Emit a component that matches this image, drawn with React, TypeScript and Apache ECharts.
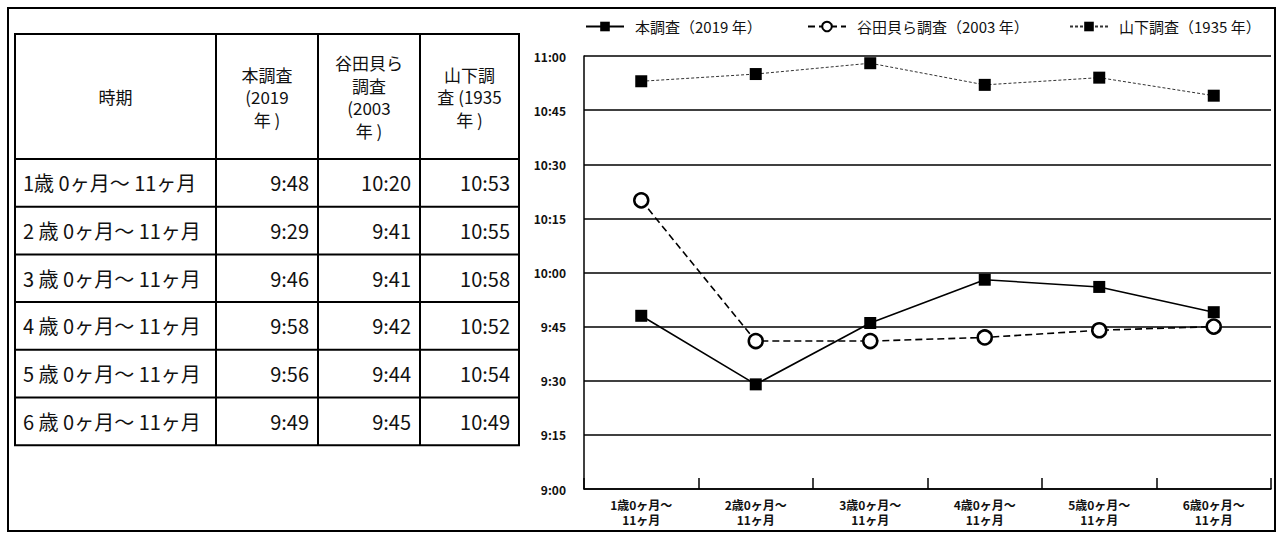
import React, { useEffect, useRef } from "react";
import * as echarts from "echarts";

const tableRowLabels = [
  "1歳 0ヶ月～ 11ヶ月",
  "2 歳 0ヶ月～ 11ヶ月",
  "3 歳 0ヶ月～ 11ヶ月",
  "4 歳 0ヶ月～ 11ヶ月",
  "5 歳 0ヶ月～ 11ヶ月",
  "6 歳 0ヶ月～ 11ヶ月",
];
const axisCategories = [
  "1歳0ヶ月～\n11ヶ月",
  "2歳0ヶ月～\n11ヶ月",
  "3歳0ヶ月～\n11ヶ月",
  "4歳0ヶ月～\n11ヶ月",
  "5歳0ヶ月～\n11ヶ月",
  "6歳0ヶ月～\n11ヶ月",
];
const tableHeaders = [["時期"], ["本調査", "(2019", "年 )"], ["谷田貝ら", "調査", "(2003", "年 )"], ["山下調", "査 (1935", "年 )"]];
const seriesNames = ["本調査（2019 年）", "谷田貝ら調査（2003 年）", "山下調査（1935 年）"];
const survey2019 = ["9:48", "9:29", "9:46", "9:58", "9:56", "9:49"];
const survey2003 = ["10:20", "9:41", "9:41", "9:42", "9:44", "9:45"];
const survey1935 = ["10:53", "10:55", "10:58", "10:52", "10:54", "10:49"];
const yMinTime = "9:00";
const yMaxTime = "11:00";
const yStepMinutes = 15;

const toMin = (s: string) => {
  const [h, m] = s.split(":").map(Number);
  return h * 60 + m;
};
const fmt = (v: number) => {
  const h = Math.floor(v / 60);
  const m = Math.round(v % 60);
  return `${h}:${m < 10 ? "0" + m : m}`;
};

const FONT = '"Noto Sans CJK JP", "Noto Sans", sans-serif';

export default function App() {
  const ref = useRef<HTMLDivElement>(null);
  useEffect(() => {
    if (!ref.current) return;
    const chart = echarts.init(ref.current, null, { renderer: "svg" });

    // table layout
    const colX = [15, 216, 318, 420, 519];
    const top = 34;
    const headBottom = 159;
    const rowH = 47.7;
    const bottom = headBottom + rowH * tableRowLabels.length;
    const headLineH = 22.5;
    const graphic: any[] = [];
    graphic.push({
      type: "rect",
      shape: { x: 8, y: 8, width: 1267, height: 523 },
      style: { fill: "none", stroke: "#000", lineWidth: 2 },
      silent: true,
    });
    graphic.push({
      type: "rect",
      shape: { x: colX[0], y: top, width: colX[4] - colX[0], height: bottom - top },
      style: { fill: "#fff", stroke: "#000", lineWidth: 2 },
      silent: true,
    });
    for (let i = 1; i < colX.length - 1; i++) {
      graphic.push({
        type: "line",
        shape: { x1: colX[i], y1: top, x2: colX[i], y2: bottom },
        style: { stroke: "#000", lineWidth: 2 },
        silent: true,
      });
    }
    for (let r = 0; r < tableRowLabels.length; r++) {
      const y = headBottom + rowH * r;
      graphic.push({
        type: "line",
        shape: { x1: colX[0], y1: y, x2: colX[4], y2: y },
        style: { stroke: "#000", lineWidth: 2 },
        silent: true,
      });
    }
    tableHeaders.forEach((lines, i) => {
      const cy = (top + headBottom) / 2;
      const n = lines.length;
      lines.forEach((ln, k) => {
        graphic.push({
          type: "text",
          x: (colX[i] + colX[i + 1]) / 2,
          y: cy + (k - (n - 1) / 2) * headLineH,
          style: {
            text: ln,
            fill: "#111",
            fontSize: 17,
            fontFamily: FONT,
            align: "center",
            verticalAlign: "middle",
          },
          silent: true,
        });
      });
    });
    const cols = [survey2019, survey2003, survey1935];
    tableRowLabels.forEach((lab, r) => {
      const cy = headBottom + rowH * (r + 0.5);
      graphic.push({
        type: "text",
        x: colX[0] + 8,
        y: cy,
        style: { text: lab, fill: "#111", fontSize: 20, fontFamily: FONT, align: "left", verticalAlign: "middle" },
        silent: true,
      });
      cols.forEach((arr, c) => {
        graphic.push({
          type: "text",
          x: colX[c + 2] - 9,
          y: cy,
          style: { text: arr[r], fill: "#111", fontSize: 20, fontFamily: FONT, align: "right", verticalAlign: "middle" },
          silent: true,
        });
      });
    });

    const legendLefts = [580, 802, 1064];
    const legendBase = {
      top: 14,
      itemWidth: 38,
      itemHeight: 12,
      textStyle: { fontSize: 15, fontFamily: FONT, color: "#111", padding: [0, 0, 0, 6] },
    };

    chart.setOption({
      animation: false,
      backgroundColor: "#fff",
      graphic,
      legend: seriesNames.map((n, i) => ({ ...legendBase, left: legendLefts[i], data: [n] })),
      grid: { left: 584, right: 7, top: 56, bottom: 47 },
      xAxis: {
        type: "category",
        data: axisCategories,
        boundaryGap: true,
        axisLine: { lineStyle: { color: "#000", width: 1.5 } },
        axisTick: { show: true, inside: true, length: 11, lineStyle: { color: "#000", width: 1.5 } },
        axisLabel: { fontSize: 12, lineHeight: 15, margin: 8, color: "#111", fontFamily: FONT, fontWeight: "bold" },
      },
      yAxis: {
        type: "value",
        min: toMin(yMinTime),
        max: toMin(yMaxTime),
        interval: yStepMinutes,
        axisLine: { show: true, lineStyle: { color: "#000", width: 1.5 } },
        axisTick: { show: false },
        splitLine: { lineStyle: { color: "#000", width: 1.5 } },
        axisLabel: {
          formatter: (v: number) => fmt(v),
          fontSize: 12,
          margin: 18,
          color: "#111",
          fontFamily: FONT,
          fontWeight: "bold",
        },
      },
      series: [
        {
          name: seriesNames[0],
          type: "line",
          data: survey2019.map(toMin),
          symbol: "rect",
          symbolSize: 12,
          lineStyle: { color: "#000", width: 1.6 },
          itemStyle: { color: "#000" },
          z: 4,
        },
        {
          name: seriesNames[1],
          type: "line",
          data: survey2003.map(toMin),
          symbol: "circle",
          symbolSize: 14,
          lineStyle: { color: "#000", width: 1.6, type: [7, 4] },
          itemStyle: { color: "#fff", borderColor: "#000", borderWidth: 2.5 },
          z: 3,
        },
        {
          name: seriesNames[2],
          type: "line",
          data: survey1935.map(toMin),
          symbol: "rect",
          symbolSize: 12,
          lineStyle: { color: "#333", width: 1, type: [3, 2] },
          itemStyle: { color: "#000" },
          z: 2,
        },
      ],
    });
    return () => chart.dispose();
  }, []);
  return (
    <div
      ref={ref}
      style={{ position: "fixed", left: 0, top: 0, width: 1278, height: 536, background: "#fff" }}
    />
  );
}
